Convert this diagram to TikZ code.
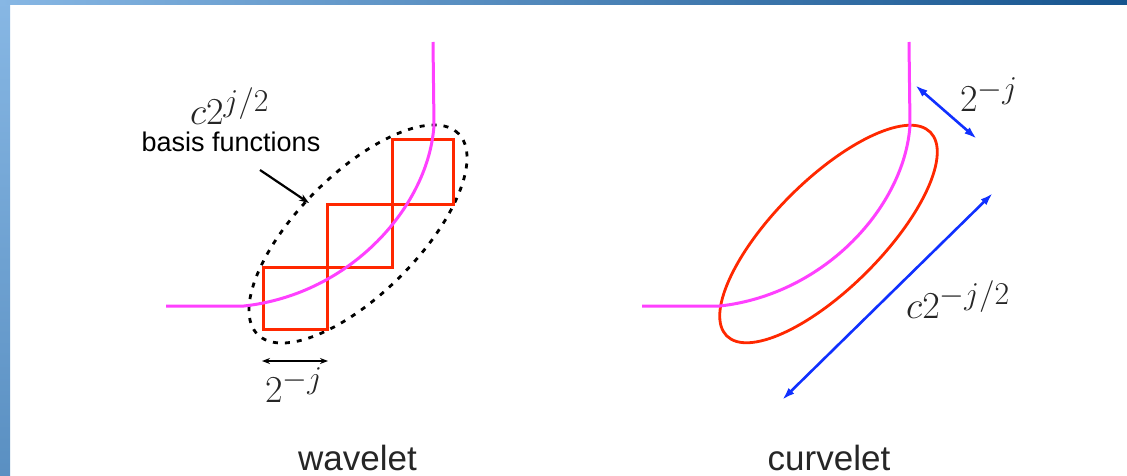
\documentclass[tikz,border=0pt]{standalone}
\usepackage{graphicx}
\usepackage[no-math]{fontspec}
\newfontfamily\helv{Liberation Sans}
\usetikzlibrary{arrows.meta}

\definecolor{magenta_c}{RGB}{255,64,255}
\definecolor{rosso}{RGB}{255,40,0}
\definecolor{blu}{RGB}{16,48,255}
\definecolor{cornice_chiaro}{RGB}{135,183,228}
\definecolor{cornice_scuro}{RGB}{22,84,142}

% formula ingrandita (le fonti matematiche cm hanno taglie fisse)
\newcommand{\formulona}[1]{\scalebox{1.53}{\Huge$#1$}}

\begin{document}
\begin{tikzpicture}[
    x=1pt, y=-1pt,
    curva/.style={draw=magenta_c, line width=3pt},
    quadrato/.style={draw=rosso, line width=3pt},
    ellisse_tratt/.style={draw=black, line width=2.8pt, dash pattern=on 5pt off 7pt},
    ellisse_piena/.style={draw=rosso, line width=2.8pt},
    puntatore/.style={-{Stealth[length=10pt, width=7pt]}, black, line width=2.2pt},
    quota_nera/.style={{Stealth[length=8pt, width=6pt]}-{Stealth[length=8pt, width=6pt]}, black, line width=2pt},
    quota_blu/.style={{Latex[length=13pt, width=8pt]}-{Latex[length=13pt, width=8pt]}, blu, line width=2.6pt},
    etichetta/.style={font=\helv\fontsize{27}{30}\selectfont, inner sep=0pt},
    formula/.style={inner sep=0pt, text=black!85},
    titolo/.style={font=\helv\fontsize{35}{40}\selectfont, inner sep=0pt, text=black!85}
]

    % 1. Sfondo e cornice
    \useasboundingbox (0,0) rectangle (1127,476);
    \fill[white] (0,0) rectangle (1127,476);
    \shade[top color=cornice_chiaro, bottom color=cornice_chiaro!60!cornice_scuro] (0,0) rectangle (10,476);
    \shade[left color=cornice_chiaro, right color=cornice_scuro] (0,0) rectangle (1127,5);

    % 2. Wavelet: curva, quadrati ed ellisse tratteggiata
    \draw[ellisse_tratt] (358,234) ellipse [x radius=142pt, y radius=60pt, rotate=45];
    \draw[quadrato] (263,267) rectangle (327,329);
    \draw[quadrato] (327,204) rectangle (392,267);
    \draw[quadrato] (392,140) rectangle (453,204);
    \draw[curva] (433,42) -- (434,125) .. controls (429,205) and (352,294) .. (244,306) -- (166,306);

    % Etichette a sinistra
    \node[formula, anchor=base west] (scala_w) at (190,125) {\formulona{c2^{j/2}}};
    \node[etichetta, anchor=base] (basi) at (231,152) {basis functions};
    \coordinate (coda) at (260,170);
    \coordinate (punta) at (309,203);
    \draw[puntatore] (coda) -- (punta);

    % Quota 2^{-j} sotto i quadrati
    \coordinate (qA) at (262,361);
    \coordinate (qB) at (328,361);
    \draw[quota_nera] (qA) -- (qB);
    \node[formula, anchor=base west] (passo_w) at (265,402) {\formulona{2^{-j}}};

    % 3. Curvelet: curva ed ellisse piena
    \draw[ellisse_piena] (828.5,234) ellipse [x radius=144pt, y radius=54pt, rotate=45];
    \draw[curva] (909,42) -- (910,125) .. controls (905,205) and (826,294) .. (720,306) -- (642,306);

    % Quote blu
    \coordinate (bA) at (915,85);
    \coordinate (bB) at (977,139);
    \draw[quota_blu] (bA) -- (bB);
    \coordinate (bC) at (993,193);
    \coordinate (bD) at (782,400);
    \draw[quota_blu] (bC) -- (bD);
    \node[formula, anchor=base west] (larg_c) at (960,112) {\formulona{2^{-j}}};
    \node[formula, anchor=base west] (lung_c) at (906,318) {\formulona{c2^{-j/2}}};

    % 4. Titoli
    \node[titolo, anchor=base] (t_wave) at (357.5,470) {wavelet};
    \node[titolo, anchor=base] (t_curve) at (829,470) {curvelet};

\end{tikzpicture}
\end{document}
